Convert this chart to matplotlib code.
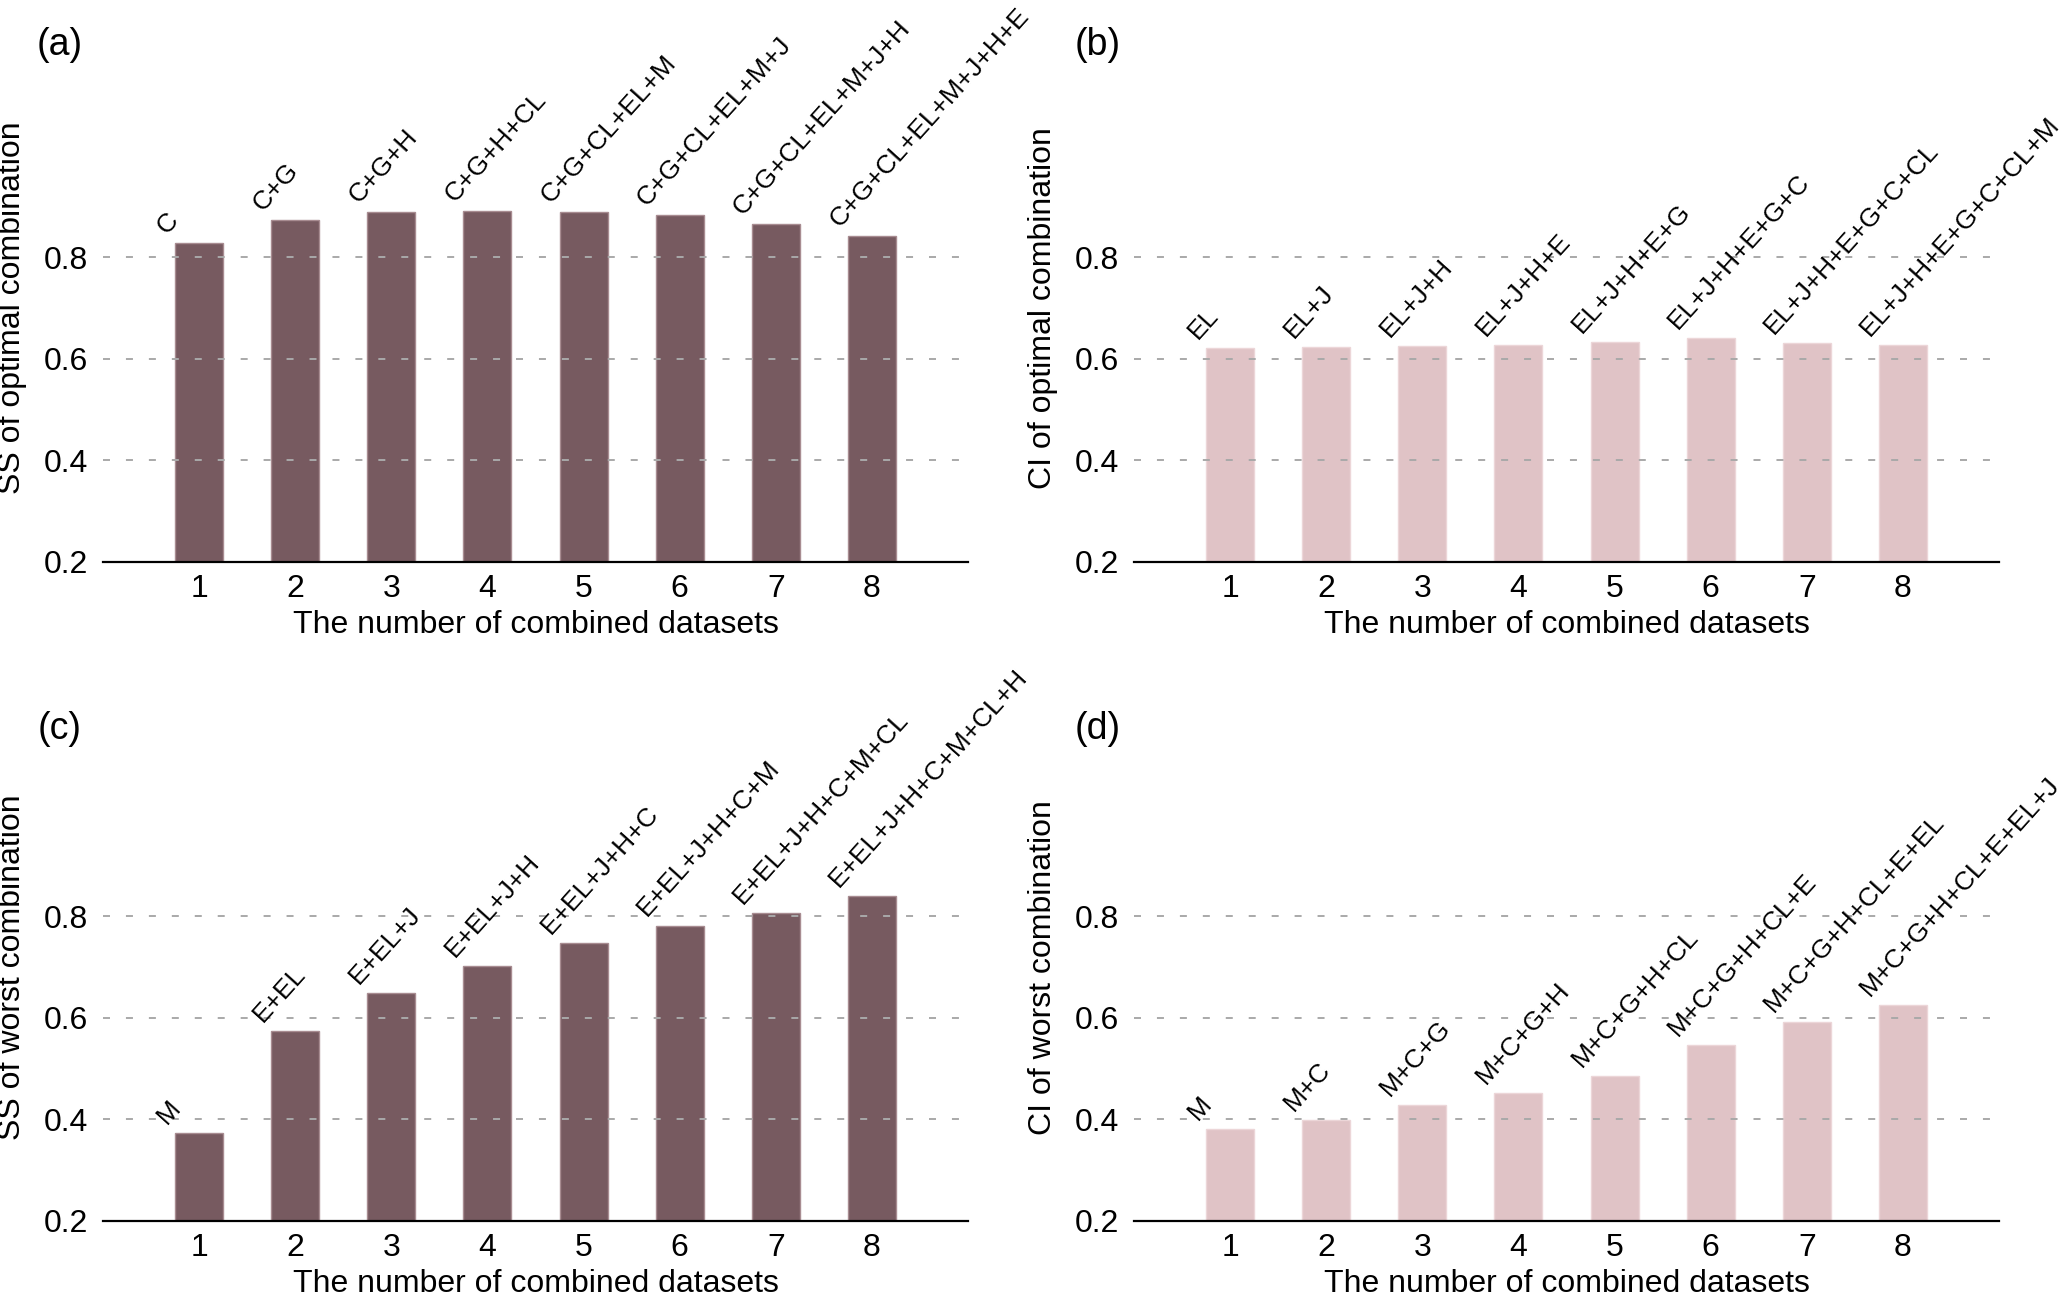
import matplotlib
matplotlib.use("Agg")
import matplotlib.pyplot as plt

plt.rcParams['font.family'] = ['Liberation Sans', 'DejaVu Sans']

x_pos = [1, 2, 3, 4, 5, 6, 7, 8]

ss_opt = [0.828, 0.873, 0.888, 0.890, 0.888, 0.882, 0.865, 0.841]
ss_opt_labels = ["C", "C+G", "C+G+H", "C+G+H+CL", "C+G+CL+EL+M", "C+G+CL+EL+M+J",
                 "C+G+CL+EL+M+J+H", "C+G+CL+EL+M+J+H+E"]

ci_opt = [0.620, 0.623, 0.625, 0.627, 0.632, 0.641, 0.631, 0.626]
ci_opt_labels = ["EL", "EL+J", "EL+J+H", "EL+J+H+E", "EL+J+H+E+G", "EL+J+H+E+G+C",
                 "EL+J+H+E+G+C+CL", "EL+J+H+E+G+C+CL+M"]

ss_worst = [0.373, 0.575, 0.649, 0.703, 0.748, 0.782, 0.806, 0.840]
ss_worst_labels = ["M", "E+EL", "E+EL+J", "E+EL+J+H", "E+EL+J+H+C", "E+EL+J+H+C+M",
                   "E+EL+J+H+C+M+CL", "E+EL+J+H+C+M+CL+H"]

ci_worst = [0.381, 0.398, 0.428, 0.452, 0.486, 0.547, 0.593, 0.625]
ci_worst_labels = ["M", "M+C", "M+C+G", "M+C+G+H", "M+C+G+H+CL", "M+C+G+H+CL+E",
                   "M+C+G+H+CL+E+EL", "M+C+G+H+CL+E+EL+J"]

ylabels = ["SS of optimal combination", "CI of optimal combination",
           "SS of worst combination", "CI of worst combination"]
panel_tags = ["(a)", "(b)", "(c)", "(d)"]
xlabel = "The number of combined datasets"
yticks = [0.2, 0.4, 0.6, 0.8]

DARK = "#775a60"
DARK_EDGE = "#a88c91"
PINK = "#e0c3c6"
PINK_EDGE = "#ecd6d8"

W, H = 2067, 1295
fig = plt.figure(figsize=(W / 100, H / 100), dpi=100)

lefts = [103 / W, 1134 / W, 103 / W, 1134 / W]
bottoms = [1 - 561.6 / H, 1 - 561.6 / H, 1 - 1221 / H, 1 - 1221 / H]
aw = 865 / W
ah = 507.6 / H

datasets = [(ss_opt, ss_opt_labels, DARK, DARK_EDGE),
            (ci_opt, ci_opt_labels, PINK, PINK_EDGE),
            (ss_worst, ss_worst_labels, DARK, DARK_EDGE),
            (ci_worst, ci_worst_labels, PINK, PINK_EDGE)]

tag_pos = [(60, 45), (1098, 45), (60, 729), (1098, 729)]

for k, (vals, labs, col, ecol) in enumerate(datasets):
    ax = fig.add_axes([lefts[k], bottoms[k], aw, ah])
    ax.bar(x_pos, [v - 0.2 for v in vals], bottom=0.2, width=0.5, color=col,
           edgecolor=ecol, linewidth=1.0, zorder=2)
    ax.set_xlim(0, 9)
    ax.set_ylim(0.2, 1.2)
    for gy in yticks[1:]:
        ax.axhline(gy, color="#a9a9a9", linewidth=1.4,
                   linestyle=(0, (3.6, 8.2)), zorder=3)
    for xi, v, t in zip(x_pos, vals, labs):
        ax.text(xi - 0.34, v + 0.016, t, rotation=48, rotation_mode='anchor',
                ha='left', va='baseline', fontsize=19, zorder=4, clip_on=False)
    for s in ['top', 'right', 'left']:
        ax.spines[s].set_visible(False)
    ax.spines['bottom'].set_linewidth(1.6)
    ax.set_xticks(x_pos)
    ax.set_xticklabels([str(i) for i in x_pos])
    ax.set_yticks(yticks)
    ax.set_yticklabels(["0.2", "0.4", "0.6", "0.8"])
    ax.tick_params(axis='x', direction='in', length=7, width=1.8, pad=9,
                   labelsize=23, colors='black')
    ax.tick_params(axis='y', length=0, pad=11, labelsize=23)
    ax.set_xlabel(xlabel, fontsize=23, labelpad=4)
    ax.set_ylabel(ylabels[k], fontsize=23)
    ax.yaxis.set_label_coords(-0.088, 0.5)
    ax.patch.set_alpha(0)
    fig.text(tag_pos[k][0] / W, 1 - tag_pos[k][1] / H, panel_tags[k],
             fontsize=27, ha='center', va='center')

fig.savefig("out.png", dpi=100)
